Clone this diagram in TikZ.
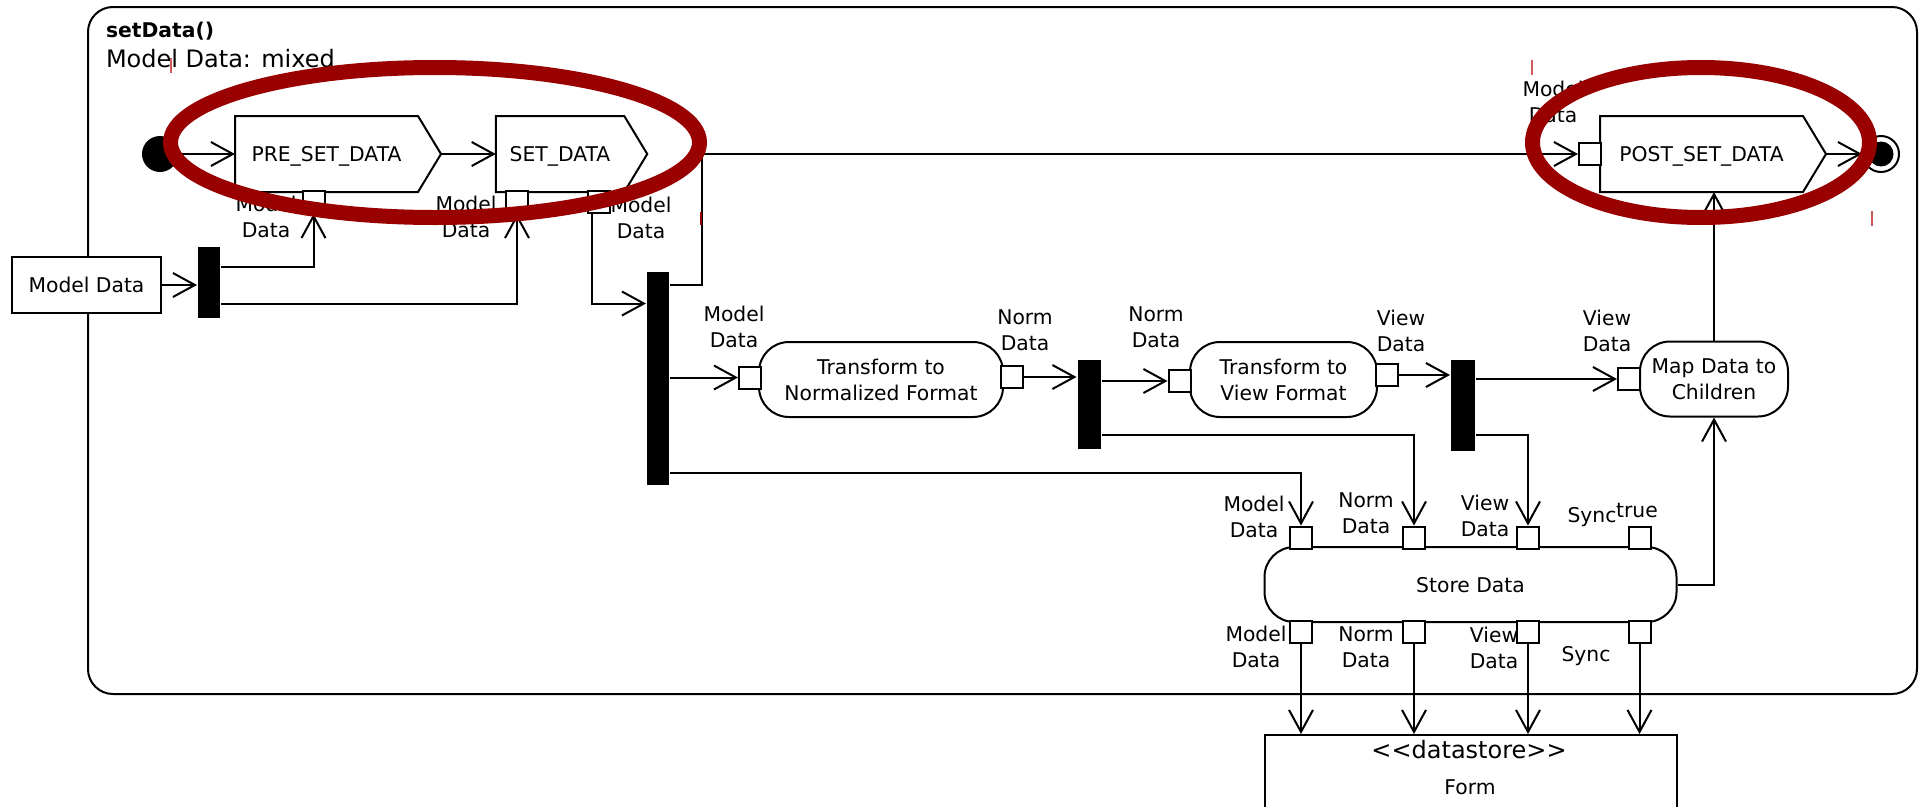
\documentclass[tikz,border=0pt]{standalone}
\usepackage{fontspec}
\setmainfont{DejaVu Sans}[Ligatures=TeXOff]
\usetikzlibrary{arrows.meta}
\definecolor{markred}{RGB}{153,0,0}
\definecolor{tickred}{RGB}{205,90,90}

\begin{document}
\begin{tikzpicture}[x=1pt, y=-1pt, line width=2pt,
  >={Straight Barb[length=22pt,width=24pt]},
  every node/.style={font=\fontsize{20.3}{26}\selectfont, inner sep=0pt},
  lbl/.style={align=center},
  sendsig/.style={rectangle, minimum height=74, text height=14.6pt, text depth=0pt},
  action/.style={draw, rectangle, rounded corners=30pt, minimum height=75, align=center},
  pin/.style={draw, fill=white, rectangle, minimum size=22},
  bar/.style={fill=black, rectangle, minimum width=22}]
  \clip (0,0) rectangle (1922,806);
  % activity frame
  \node (act) [draw, rounded corners=25pt, minimum width=1829, minimum height=687] at (1002.5,350.5) {};
  \node (title) [anchor=base west, font=\fontsize{20.3}{24}\selectfont\bfseries] at (105,37) {setData()};
  \node (param) [anchor=base west, font=\fontsize{24}{29}\selectfont] at (105,67) {Model Data: mixed};
  % control flow
  \node (init) [circle, fill=black, minimum size=36] at (160,154) {};
  \node (pre) [sendsig, minimum width=181] at (326.5,154) {PRE\_SET\_DATA};
  \node (set) [sendsig, minimum width=126.5] at (560,154) {SET\_DATA};
  \node (post) [sendsig, minimum width=201] at (1701.5,154) {POST\_SET\_DATA};
  \foreach \s in {pre,set,post} {
    \coordinate (\s-tip) at ([xshift=23pt]\s.east);
    \draw (\s.north west) -- (\s.north east) -- (\s-tip) -- (\s.south east) -- (\s.south west) -- cycle;
  }
  \node (final) [circle, draw, fill=white, minimum size=36] at (1881,154) {};
  \node (finaldot) [circle, fill=black, minimum size=25] at (final) {};
  % input
  \node (mdin) [draw, fill=white, minimum width=149, minimum height=56, text height=15.2pt, text depth=0pt] at (86.5,285) {Model Data};
  \node (bar1) [bar, minimum height=71] at (209,282.5) {};
  \node (bar2) [bar, minimum height=213] at (658,378.5) {};
  \node (bar3) [bar, minimum width=23, minimum height=89] at (1089,404.5) {};
  \node (bar4) [bar, minimum width=24, minimum height=91] at (1463,405.5) {};
  % actions
  \node (tnorm) [action, minimum width=244] at (881,379.5) {Transform to\\Normalized Format};
  \node (tview) [action, minimum width=187] at (1283.5,379.5) {Transform to\\View Format};
  \node (map) [action, minimum width=148] at (1714,379) {Map Data to\\Children};
  \node (store) [action, minimum width=412, text height=15.2pt, text depth=0pt] at (1470.5,584.5) {Store Data};
  \node (ds) [draw, minimum width=412, minimum height=140, anchor=north] at (1470.5,734) {};
  \node (dskind) [anchor=base, font=\fontsize{24}{29}\selectfont] at (1469,758) {<<datastore>>};
  \node (dsname) [anchor=base] at (1470,794) {Form};
  % pins
  \node (premd) [pin] at (313.5,202) {};
  \node (setmd) [pin] at (517,202) {};
  \node (setout) [pin] at (599,202) {};
  \node (postin) [pin] at (1590,154) {};
  \node (tnin) [pin] at (750,377.5) {};
  \node (tnout) [pin] at (1012,377) {};
  \node (tvin) [pin] at (1179.5,381) {};
  \node (tvout) [pin] at (1386.5,375) {};
  \node (mapin) [pin] at (1629,379) {};
  \foreach \n/\x in {m/1301, n/1414, v/1528, s/1639.5} {
    \node (st\n) [pin] at (\x,537.5) {};
    \node (sb\n) [pin] at (\x,631.5) {};
  }
  % pin labels
  \node (premdl) [lbl] at (266,217.4) {Model\\Data};
  \node (setmdl) [lbl] at (466,217.4) {Model\\Data};
  \node (setoutl) [lbl] at (641,218.4) {Model\\Data};
  \node (postinl) [lbl] at (1553,102.4) {Model\\Data};
  \node (tninl) [lbl] at (734,327.4) {Model\\Data};
  \node (tnoutl) [lbl] at (1025,330.7) {Norm\\Data};
  \node (tvinl) [lbl] at (1156,327.7) {Norm\\Data};
  \node (tvoutl) [lbl] at (1401,330.7) {View\\Data};
  \node (mapinl) [lbl] at (1607,330.7) {View\\Data};
  \node (stml) [lbl] at (1254,517) {Model\\Data};
  \node (stnl) [lbl] at (1366,513.7) {Norm\\Data};
  \node (stvl) [lbl] at (1485,515.7) {View\\Data};
  \node (stsl) [anchor=base] at (1592,522) {Sync};
  \node (stsv) [anchor=base] at (1637,517) {true};
  \node (sbml) [lbl] at (1256,647.4) {Model\\Data};
  \node (sbnl) [lbl] at (1366,647.7) {Norm\\Data};
  \node (sbvl) [lbl] at (1494,647.7) {View\\Data};
  \node (sbsl) [anchor=base] at (1586,661.7) {Sync};
  % flows
  \draw[->] (init) -- (pre.west);
  \draw[->] (pre-tip) -- (set.west);
  \draw[->] (post-tip) -- (final);
  \draw[->] (mdin.east) -- (mdin.east -| bar1.west);
  \draw[->] ([yshift=15.5pt]bar1.east) -| (premd.south);
  \draw[->] ([yshift=-21.5pt]bar1.east) -| (setmd.south);
  \draw[->] ([xshift=-7pt]setout.south) |- ([yshift=75pt]bar2.west);
  \draw[->] ([yshift=93.5pt]bar2.east) -- ++(32,0) |- (postin.west);
  \draw[->] (bar2.east |- tnin.west) -- (tnin.west);
  \draw[->] ([yshift=-94.5pt]bar2.east) -| (stm.north);
  \draw[->] (tnout.east) -- (tnout.east -| bar3.west);
  \draw[->] (bar3.east |- tvin.west) -- (tvin.west);
  \draw[->] ([yshift=-30.5pt]bar3.east) -| (stn.north);
  \draw[->] (tvout.east) -- (tvout.east -| bar4.west);
  \draw[->] (bar4.east |- mapin.west) -- (mapin.west);
  \draw[->] ([yshift=-29.5pt]bar4.east) -| (stv.north);
  \draw[->] (map.north) -- (map.north |- post.south);
  \draw[->] (store.east) -| (map.south);
  \foreach \n in {m,n,v,s}
    \draw[->] (sb\n.south) -- (sb\n.south |- ds.north);
  % review marks
  \draw[markred, line width=15pt] (435,142.5) ellipse [x radius=264.5pt, y radius=75pt];
  \draw[markred, line width=15pt] (1701,142.5) ellipse [x radius=168.5pt, y radius=75pt];
  \draw[tickred, line width=1.2pt] (171,58) -- (171,73);
  \draw[tickred, line width=1.2pt] (1532,60) -- (1532,75);
  \draw[markred, line width=1.5pt] (701,212) -- (701,225);
  \draw[tickred, line width=1.2pt] (1872,211) -- (1872,226);
\end{tikzpicture}
\end{document}
